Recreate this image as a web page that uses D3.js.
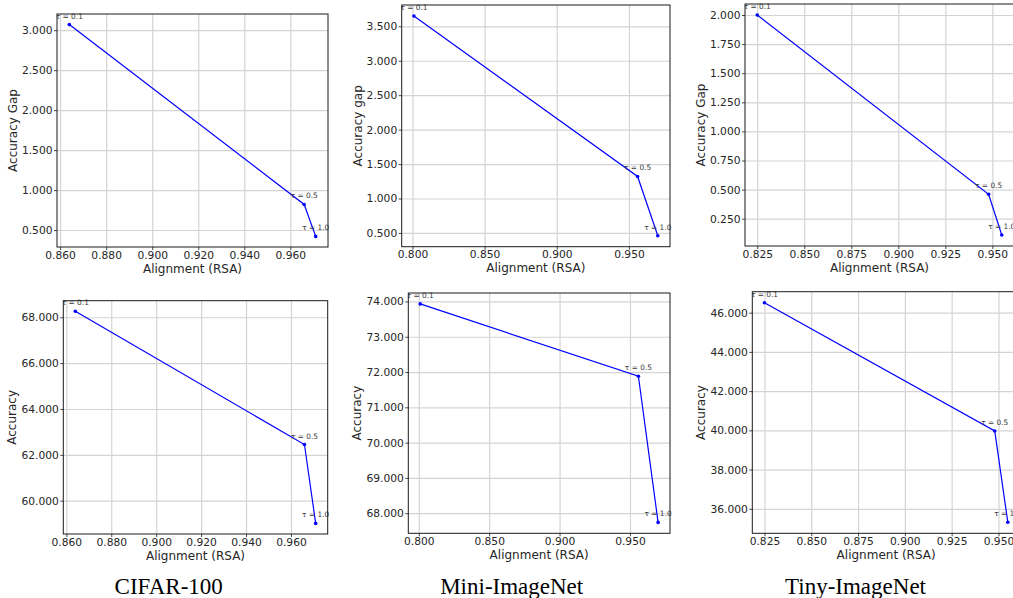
<!DOCTYPE html>
<html>
<head>
<meta charset="utf-8">
<script src="https://cdn.jsdelivr.net/npm/d3@7"></script>
<style>
  html, body { margin: 0; padding: 0; background: #ffffff; }
  svg { display: block; }
</style>
</head>
<body>
<svg id="chart" width="1013" height="598"></svg>
<script>
// ---------------- DATA ----------------
const datasets = ["CIFAR-100", "Mini-ImageNet", "Tiny-ImageNet"];
const tauLabels = ["τ = 0.1", "τ = 0.5", "τ = 1.0"];
const xLabel = "Alignment (RSA)";
const gapLabels = ["Accuracy Gap", "Accuracy gap", "Accuracy Gap"];
const accLabel = "Accuracy";

const cifarAlign = [0.864, 0.966, 0.971];
const miniAlign  = [0.801, 0.956, 0.970];
const tinyAlign  = [0.825, 0.948, 0.955];

const cifarGap = [3.07, 0.82, 0.42];
const miniGap  = [3.65, 1.32, 0.46];
const tinyGap  = [2.00, 0.46, 0.11];

const cifarAcc = [68.26, 62.45, 59.01];
const miniAcc  = [73.93, 71.88, 67.74];
const tinyAcc  = [46.51, 39.97, 35.31];

const cifarXTicks = [0.86, 0.88, 0.90, 0.92, 0.94, 0.96];
const miniXTicks  = [0.80, 0.85, 0.90, 0.95];
const tinyXTicks  = [0.825, 0.85, 0.875, 0.90, 0.925, 0.95];

const cifarGapTicks = [0.5, 1.0, 1.5, 2.0, 2.5, 3.0];
const miniGapTicks  = [0.5, 1.0, 1.5, 2.0, 2.5, 3.0, 3.5];
const tinyGapTicks  = [0.25, 0.5, 0.75, 1.0, 1.25, 1.5, 1.75, 2.0];

const cifarAccTicks = [60, 62, 64, 66, 68];
const miniAccTicks  = [68, 69, 70, 71, 72, 73, 74];
const tinyAccTicks  = [36, 38, 40, 42, 44, 46];

// ---------------- LAYOUT ----------------
const panels = [
  {x: cifarAlign, y: cifarGap, xt: cifarXTicks, yt: cifarGapTicks, yl: gapLabels[0], box: [57, 14, 328, 247]},
  {x: miniAlign,  y: miniGap,  xt: miniXTicks,  yt: miniGapTicks,  yl: gapLabels[1], box: [401.7, 5, 670, 246.7]},
  {x: tinyAlign,  y: tinyGap,  xt: tinyXTicks,  yt: tinyGapTicks,  yl: gapLabels[2], box: [745, 4, 1014, 246]},
  {x: cifarAlign, y: cifarAcc, xt: cifarXTicks, yt: cifarAccTicks, yl: accLabel, box: [63.3, 300.7, 327.7, 534]},
  {x: miniAlign,  y: miniAcc,  xt: miniXTicks,  yt: miniAccTicks,  yl: accLabel, box: [408.3, 293, 670, 533.3]},
  {x: tinyAlign,  y: tinyAcc,  xt: tinyXTicks,  yt: tinyAccTicks,  yl: accLabel, box: [752.3, 291.7, 1020, 533.3]}
];
const captionX = [168.7, 511.7, 855.5];
const FONT = "DejaVu Sans, sans-serif";

const svg = d3.select("#chart");
svg.append("rect").attr("width", 1013).attr("height", 598).attr("fill", "#ffffff");

function padded(arr) {
  const [a, b] = d3.extent(arr);
  const m = (b - a) * 0.05;
  return [a - m, b + m];
}

panels.forEach((p, i) => {
  const [L, T, R, B] = p.box;
  const W = R - L, H = B - T;
  const xs = d3.scaleLinear().domain(padded(p.x)).range([0, W]);
  const ys = d3.scaleLinear().domain(padded(p.y)).range([H, 0]);
  const g = svg.append("g").attr("transform", `translate(${L},${T})`);

  const clipId = "clip" + i;
  g.append("clipPath").attr("id", clipId)
    .append("rect").attr("x", 0).attr("y", -2).attr("width", W + 2).attr("height", H + 2);

  // grid
  const gx = g.append("g").attr("transform", `translate(0,${H})`)
    .call(d3.axisBottom(xs).tickValues(p.xt).tickSize(-H).tickFormat(""));
  const gy = g.append("g")
    .call(d3.axisLeft(ys).tickValues(p.yt).tickSize(-W).tickFormat(""));
  [gx, gy].forEach(a => {
    a.select(".domain").remove();
    a.selectAll("line").attr("stroke", "#d4d4d4").attr("stroke-width", 1.2);
  });

  // line + markers
  const pts = p.x.map((v, k) => ({x: v, y: p.y[k], t: tauLabels[k]}));
  const plot = g.append("g").attr("clip-path", `url(#${clipId})`);
  plot.append("path").datum(pts)
    .attr("fill", "none").attr("stroke", "#0000ff").attr("stroke-width", 1.2)
    .attr("d", d3.line().x(d => xs(d.x)).y(d => ys(d.y)));
  plot.selectAll("circle").data(pts).join("circle")
    .attr("cx", d => xs(d.x)).attr("cy", d => ys(d.y)).attr("r", 1.8)
    .attr("fill", "#0000ff");
  plot.selectAll("text.ann").data(pts).join("text").attr("class", "ann")
    .attr("x", d => xs(d.x)).attr("y", d => ys(d.y) - 6)
    .attr("text-anchor", "middle").attr("font-family", FONT).attr("font-size", 7.4)
    .attr("fill", "#3a3a3a").text(d => d.t);

  // frame
  g.append("rect").attr("x", 0).attr("y", 0).attr("width", W).attr("height", H)
    .attr("fill", "none").attr("stroke", "#1a1a1a").attr("stroke-width", 1);

  // axes
  const ax = g.append("g").attr("transform", `translate(0,${H})`)
    .call(d3.axisBottom(xs).tickValues(p.xt).tickSize(3).tickPadding(1).tickFormat(d3.format(".3f")));
  const ay = g.append("g")
    .call(d3.axisLeft(ys).tickValues(p.yt).tickSize(3).tickPadding(1.5).tickFormat(d3.format(".3f")));
  [ax, ay].forEach(a => {
    a.select(".domain").remove();
    a.selectAll("line").attr("stroke", "#1a1a1a").attr("stroke-width", 0.8);
    a.selectAll("text").attr("font-family", FONT).attr("font-size", 10.7).attr("fill", "#262626");
  });

  let maxW = 0;
  ay.selectAll("text").each(function() { maxW = Math.max(maxW, this.getComputedTextLength()); });

  g.append("text").attr("x", W / 2).attr("y", H + 25.7)
    .attr("text-anchor", "middle").attr("font-family", FONT).attr("font-size", 12)
    .attr("fill", "#262626").text(xLabel);
  g.append("text")
    .attr("transform", `translate(${-(4.5 + maxW + 5)},${H / 2}) rotate(-90)`)
    .attr("text-anchor", "middle").attr("font-family", FONT).attr("font-size", 12)
    .attr("fill", "#262626").text(p.yl);
});

datasets.forEach((name, i) => {
  svg.append("text").attr("x", captionX[i]).attr("y", 594)
    .attr("text-anchor", "middle").attr("font-family", "Liberation Serif, Times New Roman, serif")
    .attr("font-size", 23).attr("fill", "#000").text(name);
});
</script>
</body>
</html>
